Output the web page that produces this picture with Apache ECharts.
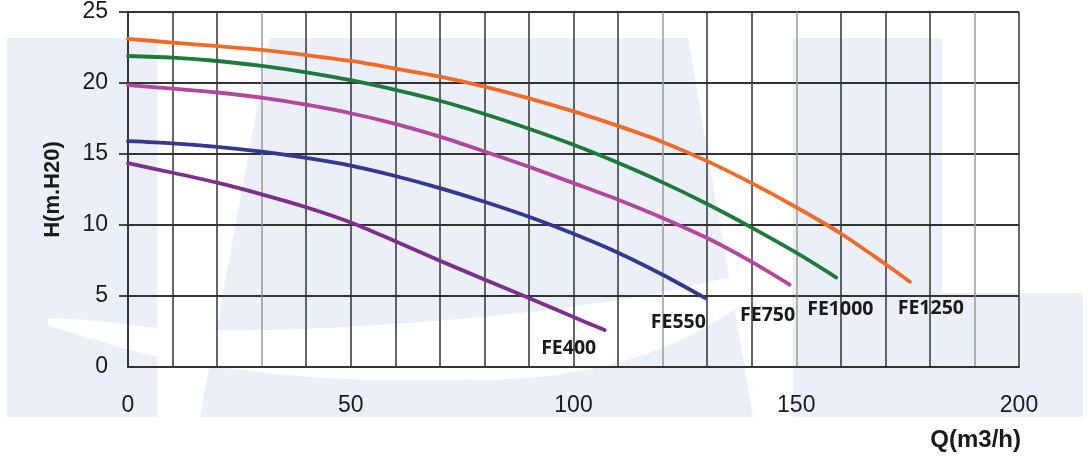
<!DOCTYPE html>
<html>
<head>
<meta charset="utf-8">
<script src="https://cdn.jsdelivr.net/npm/echarts@6/dist/echarts.min.js"></script>
<style>
html,body{margin:0;padding:0;background:#fff;}
#c{width:1088px;height:464px;}
</style>
</head>
<body>
<div id="c"></div>
<script>
// ---- data ----
const seriesNames = ['FE1250', 'FE1000', 'FE750', 'FE550', 'FE400'];
const q1250 = [0,10,20,30,40,50,60,70,80,90,100,110,120,130,140,150,160,170,175.5];
const h1250 = [23.1,22.85,22.6,22.33,21.97,21.55,21.02,20.45,19.75,18.92,18.0,16.98,15.85,14.5,12.95,11.25,9.4,7.25,6.0];
const q1000 = [0,10,20,30,40,50,60,70,80,90,100,110,120,130,140,150,159];
const h1000 = [21.9,21.78,21.55,21.2,20.75,20.2,19.52,18.75,17.82,16.78,15.65,14.38,13.0,11.48,9.82,8.05,6.3];
const q750 = [0,10,20,30,40,50,60,70,80,90,100,110,120,130,140,148.5];
const h750 = [19.85,19.6,19.33,18.97,18.47,17.87,17.12,16.22,15.18,14.1,12.95,11.78,10.5,9.08,7.4,5.8];
const q550 = [0,10,20,30,40,50,60,70,80,90,100,110,120,129.6];
const h550 = [15.9,15.75,15.5,15.16,14.72,14.18,13.45,12.6,11.64,10.58,9.38,8.05,6.5,4.85];
const q400 = [0,10,20,30,40,50,60,70,80,90,100,107];
const h400 = [14.35,13.68,12.98,12.16,11.25,10.18,8.85,7.48,6.17,4.86,3.52,2.6];
const xTickLabels = ['0','50','100','150','200'];
const yTickLabels = ['0','5','10','15','20','25'];
const xTitle = 'Q(m3/h)';
const yTitle = 'H(m.H20)';

const qs = [q1250, q1000, q750, q550, q400];
const hs = [h1250, h1000, h750, h550, h400];
const colors = ['#f26a26', '#1e7a3a', '#b3479f', '#353792', '#7c2f8d'];
const labelOffsets = [[21, 27], [4, 32], [-22, 31], [-27, 24], [-36, 18]];

// vertical grid line colours (0..200 step 10)
const vColors = [];
for (let v = 0; v <= 200; v += 10) {
  vColors.push([30,120,150,190].indexOf(v) >= 0 ? '#9a9a9a' : '#333333');
}

const chart = echarts.init(document.getElementById('c'), null, {renderer: 'canvas'});

const series = seriesNames.map((n, i) => ({
  name: n,
  type: 'line',
  smooth: 0.3,
  symbol: 'none',
  data: qs[i].map((q, k) => [q, hs[i][k]]),
  lineStyle: {color: colors[i], width: 3.8, cap: 'round'},
  itemStyle: {color: colors[i]},
  z: 5,
  endLabel: {
    show: true,
    formatter: n,
    distance: 0,
    align: 'center',
    verticalAlign: 'middle',
    offset: labelOffsets[i],
    color: '#1a1a1a',
    fontFamily: 'Open Sans',
    fontWeight: 'bold',
    fontSize: 19.5
  },
  animation: false
}));

const wm = '#eaeff8';
chart.setOption({
  backgroundColor: '#ffffff',
  animation: false,
  grid: {left: 128, top: 12, right: 69, bottom: 97, containLabel: false},
  graphic: [
    {type: 'rect', shape: {x: 7, y: 38, width: 150, height: 379}, style: {fill: wm}, z: -10, silent: true},
    {type: 'polygon', shape: {points: [[200,417],[270,38],[688,38],[753,417]]}, style: {fill: wm}, z: -10, silent: true},
    {type: 'polygon', shape: {points: [[793,38],[942,38],[942,293],[1083,293],[1083,417],[793,417]]}, style: {fill: wm}, z: -10, silent: true},
    {type: 'polygon', shape: {smooth: 0.4, points: [[50,318],[200,330],[420,322],[620,300],[770,272],[770,288],[620,362],[420,380],[200,364],[50,326]]}, style: {fill: '#ffffff'}, z: -9, silent: true},
    {type: 'text', right: 67, top: 428, style: {text: xTitle, fill: '#1a1a1a', font: 'bold 24px "Liberation Sans", Arial, sans-serif'}, z: 10}
  ],
  xAxis: {
    type: 'value', min: 0, max: 200, interval: 10,
    axisLine: {show: true, onZero: false, lineStyle: {color: '#333', width: 1.8}},
    axisTick: {show: false},
    splitLine: {show: true, lineStyle: {color: vColors, width: 1.5}},
    axisLabel: {
      margin: 27, color: '#1a1a1a', fontSize: 23, fontFamily: 'Liberation Sans',
      formatter: v => (v % 50 === 0 ? xTickLabels[v / 50] : '')
    }
  },
  yAxis: {
    type: 'value', min: 0, max: 25, interval: 5,
    name: yTitle, nameLocation: 'middle', nameGap: 64, nameRotate: 90,
    nameTextStyle: {color: '#1a1a1a', fontSize: 22, fontWeight: 'bold', fontFamily: 'Liberation Sans'},
    axisLine: {show: true, lineStyle: {color: '#333', width: 1.8}},
    axisTick: {show: true, length: 9, customValues: [5,10,15,20,25], lineStyle: {color: '#333', width: 1.8}},
    splitLine: {show: true, lineStyle: {color: '#333', width: 1.8}},
    axisLabel: {
      margin: 20, color: '#1a1a1a', fontSize: 23, fontFamily: 'Liberation Sans',
      formatter: v => yTickLabels[v / 5]
    }
  },
  series: series
});
</script>
</body>
</html>
